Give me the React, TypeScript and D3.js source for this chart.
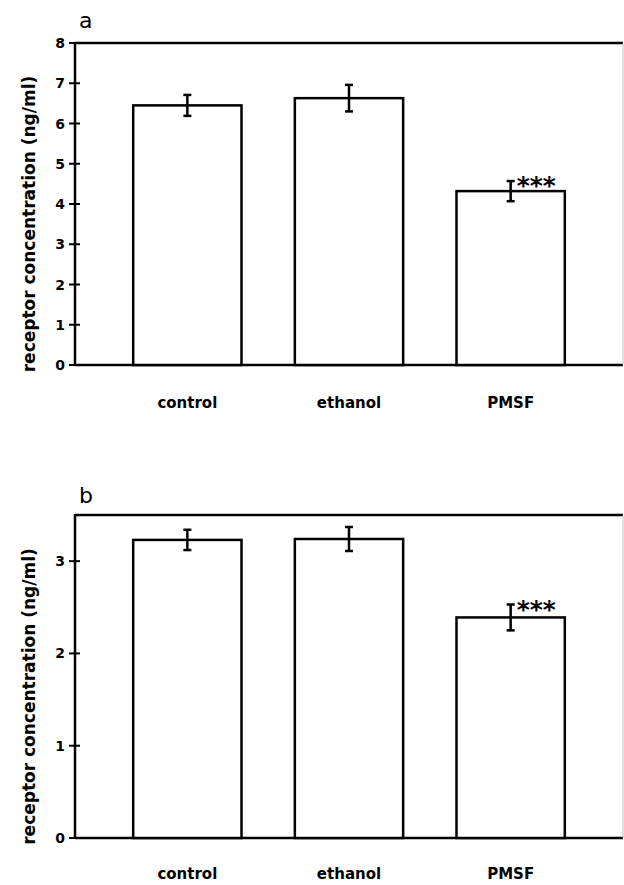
import React, { useEffect, useRef } from "react";
import * as d3 from "d3";

const categories = ["control", "ethanol", "PMSF"];

// panel a
const meansA = [6.45, 6.63, 4.32];
const errA = [0.26, 0.33, 0.25];
const ticksA = [0, 1, 2, 3, 4, 5, 6, 7, 8];

// panel b
const meansB = [3.23, 3.24, 2.39];
const errB = [0.11, 0.13, 0.14];
const ticksB = [0, 1, 2, 3];

const signif = ["", "", "***"];

const FONT = "'DejaVu Sans', sans-serif";

export default function App() {
  const ref = useRef<SVGSVGElement>(null);

  useEffect(() => {
    draw();
  }, []);

  const draw = () => {
    const svg = d3.select(ref.current);
    svg.selectAll("*").remove();

    const left = 75;
    const right = 623;

    const panels = [
      { letter: "a", letterY: 28, top: 43, bottom: 365, labelY: 408, max: 8, ticks: ticksA, means: meansA, errs: errA },
      { letter: "b", letterY: 503, top: 515, bottom: 838, labelY: 879, max: 3.5, ticks: ticksB, means: meansB, errs: errB },
    ];

    const xScale = d3
      .scaleBand<string>()
      .domain(categories)
      .range([left, right])
      .paddingInner(0.33)
      .paddingOuter(0.36);

    panels.forEach((p) => {
      const g = svg.append("g");
      const yScale = d3.scaleLinear().domain([0, p.max]).range([p.bottom, p.top]);

      // panel letter
      g.append("text")
        .attr("x", 79)
        .attr("y", p.letterY)
        .attr("font-family", FONT)
        .attr("font-size", 22)
        .text(p.letter);

      // frame: top and bottom lines, left axis
      g.append("line")
        .attr("x1", left).attr("x2", right)
        .attr("y1", yScale(p.max)).attr("y2", yScale(p.max))
        .attr("stroke", "#000").attr("stroke-width", 2.5);
      g.append("line")
        .attr("x1", left).attr("x2", right)
        .attr("y1", yScale(0)).attr("y2", yScale(0))
        .attr("stroke", "#000").attr("stroke-width", 2.5);
      g.append("line")
        .attr("x1", left).attr("x2", left)
        .attr("y1", yScale(p.max) - 1).attr("y2", yScale(0) + 1)
        .attr("stroke", "#000").attr("stroke-width", 2.5);
      g.append("line")
        .attr("x1", right).attr("x2", right)
        .attr("y1", yScale(p.max)).attr("y2", yScale(0))
        .attr("stroke", "#bbb").attr("stroke-width", 1);

      // ticks crossing the axis
      g.selectAll("tickline")
        .data(p.ticks)
        .enter()
        .append("line")
        .attr("x1", left - 6).attr("x2", left + 5)
        .attr("y1", (d) => yScale(d)).attr("y2", (d) => yScale(d))
        .attr("stroke", "#000").attr("stroke-width", 2);

      g.selectAll("ticklabel")
        .data(p.ticks)
        .enter()
        .append("text")
        .attr("x", left - 10)
        .attr("y", (d) => yScale(d))
        .attr("dy", "0.36em")
        .attr("text-anchor", "end")
        .attr("font-family", FONT)
        .attr("font-weight", "bold")
        .attr("font-size", 14)
        .text((d) => d);

      // y axis title
      g.append("text")
        .attr("transform", `translate(35, ${(p.top + p.bottom) / 2 + 20}) rotate(-90)`)
        .attr("text-anchor", "middle")
        .attr("font-family", FONT)
        .attr("font-weight", "bold")
        .attr("font-size", 17)
        .text("receptor concentration (ng/ml)");

      // bars
      g.selectAll("bars")
        .data(p.means)
        .enter()
        .append("rect")
        .attr("x", (d, i) => xScale(categories[i])!)
        .attr("y", (d) => yScale(d))
        .attr("width", xScale.bandwidth())
        .attr("height", (d) => yScale(0) - yScale(d))
        .attr("fill", "#fff")
        .attr("stroke", "#000")
        .attr("stroke-width", 2.5);

      // error bars
      const cx = (i: number) => xScale(categories[i])! + xScale.bandwidth() / 2;
      p.means.forEach((m, i) => {
        const e = p.errs[i];
        g.append("line")
          .attr("x1", cx(i)).attr("x2", cx(i))
          .attr("y1", yScale(m + e)).attr("y2", yScale(m - e))
          .attr("stroke", "#000").attr("stroke-width", 2.5);
        [m + e, m - e].forEach((v) => {
          g.append("line")
            .attr("x1", cx(i) - 4).attr("x2", cx(i) + 4)
            .attr("y1", yScale(v)).attr("y2", yScale(v))
            .attr("stroke", "#000").attr("stroke-width", 2.5);
        });
        if (signif[i]) {
          g.append("text")
            .attr("x", cx(i) + 6)
            .attr("y", yScale(m + e) + 13)
            .attr("font-family", FONT)
            .attr("font-weight", "bold")
            .attr("font-size", 25)
            .text(signif[i]);
        }
      });

      // category labels
      g.selectAll("catlabel")
        .data(categories)
        .enter()
        .append("text")
        .attr("x", (d) => xScale(d)! + xScale.bandwidth() / 2)
        .attr("y", p.labelY)
        .attr("text-anchor", "middle")
        .attr("font-family", FONT)
        .attr("font-weight", "bold")
        .attr("font-size", 15)
        .text((d) => d);
    });
  };

  return (
    <svg
      ref={ref}
      width={624}
      height={885}
      style={{ position: "absolute", left: 0, top: 0, background: "#fff" }}
    ></svg>
  );
}
